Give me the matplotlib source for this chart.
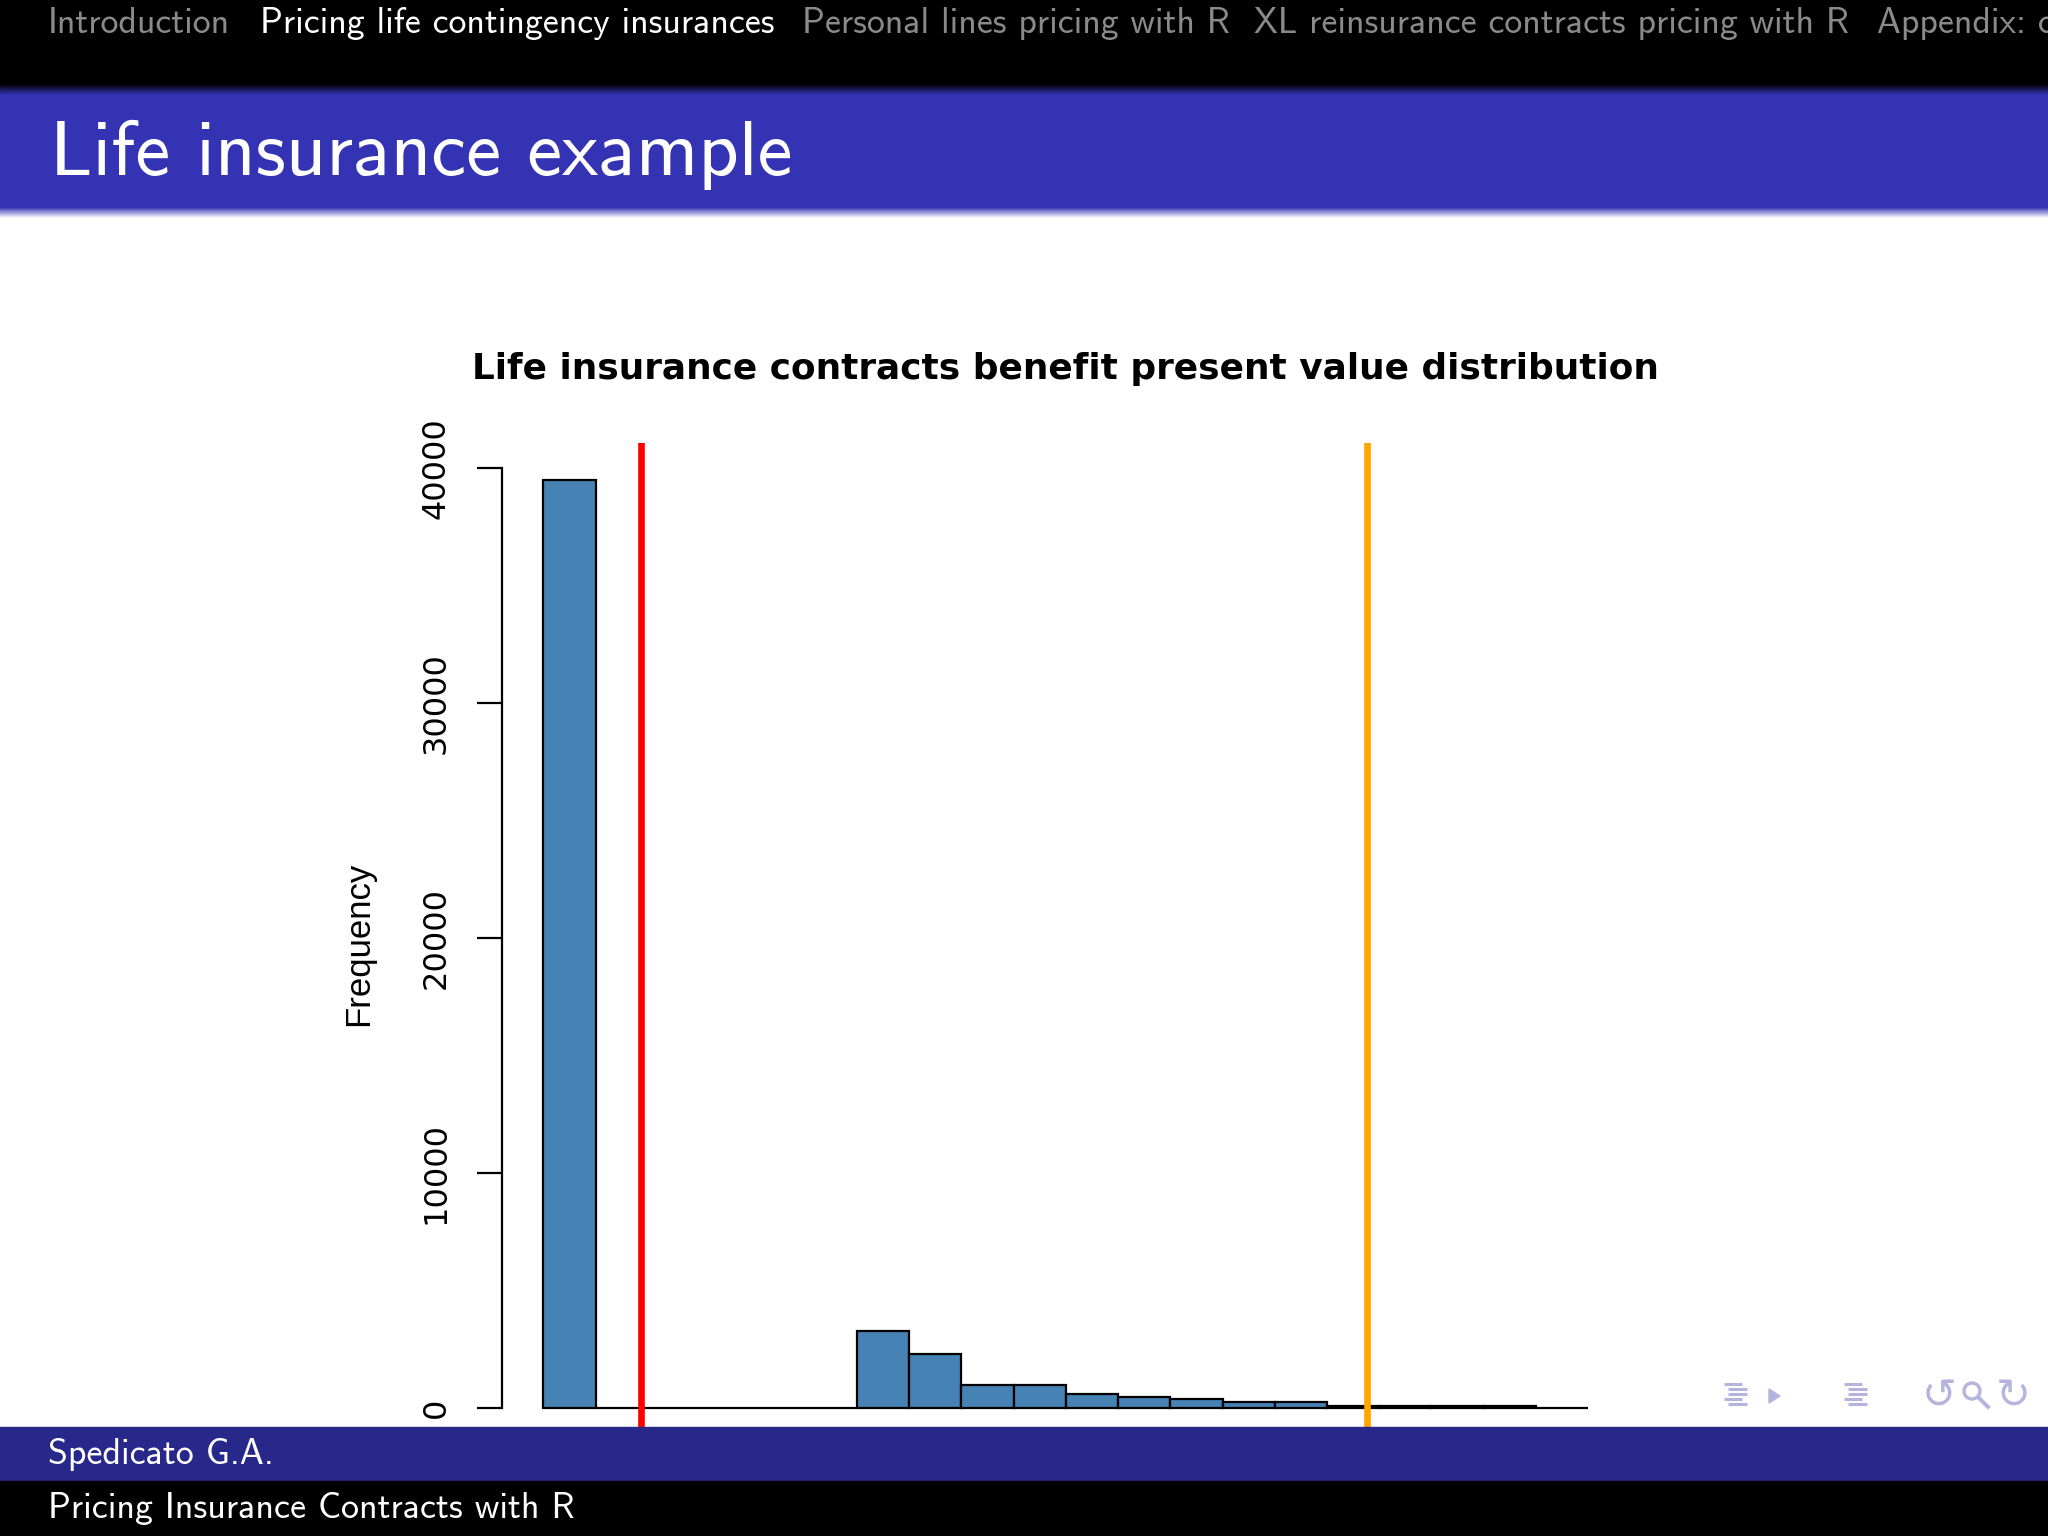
"""Beamer slide: life insurance benefit present value histogram (R hist look)."""

import numpy as np
import matplotlib
matplotlib.use("Agg")
import matplotlib.pyplot as plt
from matplotlib.patches import Rectangle, Polygon, Circle
from matplotlib.colors import LinearSegmentedColormap

# --- data ----------------------------------------------------------------
bin_edges = [0, 10000, 20000, 30000, 40000, 50000, 60000, 70000, 80000,
             90000, 100000, 110000, 120000, 130000, 140000, 150000, 160000,
             170000, 180000, 190000, 200000]
bin_counts = [39500, 0, 0, 0, 0, 0, 3290, 2310, 990, 990, 600, 480, 370,
              230, 230, 100, 80, 70, 60, 0]
pv_mean = 18750        # red line
pv_quantile = 157750   # orange line
y_ticks = [0, 10000, 20000, 30000, 40000]

nav_items = ["Introduction", "Pricing life contingency insurances",
             "Personal lines pricing with R",
             "XL reinsurance contracts pricing with R", "Appendix: code"]
active_item = 1
slide_title = "Life insurance example"
chart_title = "Life insurance contracts benefit present value distribution"
footer_author = "Spedicato G.A."
footer_talk = "Pricing Insurance Contracts with R"

# --- layout (pixels on a 2048x1536 canvas) --------------------------------
W, H = 2048, 1536
NAV_X = [48, 260, 802, 1254, 1877]
BLUE = "#3333b3"
FOOT_BLUE = "#28288a"
ICON = "#b4b4dc"
SLIDE_FONT = "cmss10"

fig = plt.figure(figsize=(W / 100, H / 100), dpi=100)
fig.patch.set_facecolor("white")

# plot region as R would lay it out (4% padding on both axes)
px_left, px_right, px_top, px_bottom = 501.6, 1630.0, 443.0, 1445.0
ax = fig.add_axes([px_left / W, 1 - px_bottom / H,
                   (px_right - px_left) / W, (px_bottom - px_top) / H])

edges = np.array(bin_edges, dtype=float)
ax.bar(edges[:-1], bin_counts, width=np.diff(edges), align="edge",
       color="#4682b4", edgecolor="black", linewidth=1.6, zorder=2)
ax.axvline(pv_mean, color="#ff0000", lw=4.8, zorder=3)
ax.axvline(pv_quantile, color="#ffa500", lw=4.8, zorder=3)

span_x = edges[-1] - edges[0]
ax.set_xlim(edges[0] - 0.04 * span_x, edges[-1] + 0.04 * span_x)
ymax = max(bin_counts)
ax.set_ylim(-0.04 * ymax, ymax * 1.04)

for side in ("top", "right", "bottom"):
    ax.spines[side].set_visible(False)
ax.spines["left"].set_bounds(y_ticks[0], y_ticks[-1])
ax.spines["left"].set_linewidth(1.6)
ax.set_xticks([])
ax.set_yticks(y_ticks)
ax.set_yticklabels([str(t) for t in y_ticks], rotation=90, va="center",
                   fontsize=23, family="DejaVu Sans")
ax.tick_params(axis="y", direction="out", length=18, width=1.6, pad=18)
ax.set_ylabel("Frequency", fontsize=25, family="Liberation Sans")
ax.yaxis.set_label_coords(-0.112, 0.5)
ax.set_title(chart_title, fontsize=25.8, fontweight="bold",
             family="DejaVu Sans", pad=46)

# --- slide chrome, drawn on a full-figure overlay in pixel coords ---------
sl = fig.add_axes([0, 0, 1, 1], zorder=5)
sl.set_facecolor("none")
sl.axis("off")

sl.add_patch(Rectangle((0, 0), W, 84, color="black"))
sl.add_patch(Rectangle((0, 95), W, 112, color=BLUE))
grad = np.linspace(0, 1, 64).reshape(-1, 1)
sl.imshow(grad, extent=[0, W, 95, 84], aspect="auto", interpolation="bilinear",
          cmap=LinearSegmentedColormap.from_list("k2b", ["black", BLUE]))
sl.imshow(grad, extent=[0, W, 218, 207], aspect="auto", interpolation="bilinear",
          cmap=LinearSegmentedColormap.from_list("b2w", [BLUE, "white"]))
sl.add_patch(Rectangle((0, 1427), W, 54, color=FOOT_BLUE))
sl.add_patch(Rectangle((0, 1481), W, 55, color="black"))

for i, (label, x) in enumerate(zip(nav_items, NAV_X)):
    sl.text(x, 33, label, fontsize=25.8, family=SLIDE_FONT, va="baseline",
            color="white" if i == active_item else "#8a8a8a")
sl.text(50, 175, slide_title, fontsize=56.6, family=SLIDE_FONT,
        color="white", va="baseline")
sl.text(48, 1464, footer_author, fontsize=25.9, family=SLIDE_FONT,
        color="white", va="baseline")
sl.text(48, 1518, footer_talk, fontsize=25.9, family=SLIDE_FONT,
        color="white", va="baseline")

# beamer navigation symbols
for x0 in (1724, 1844):
    for k, (dx0, dx1) in enumerate([(0, 18), (4, 23), (4, 23), (0, 18), (4, 23)]):
        sl.plot([x0 + dx0, x0 + dx1], [1384 + 5 * k, 1384 + 5 * k],
                color=ICON, lw=2.2, solid_capstyle="butt")
sl.add_patch(Polygon([[1769, 1389], [1780, 1396], [1769, 1403]], color=ICON))
sl.text(1939, 1396, "\u21ba", fontsize=30, color=ICON, ha="center",
        va="center", family="DejaVu Sans")
sl.text(2013, 1396, "\u21bb", fontsize=30, color=ICON, ha="center",
        va="center", family="DejaVu Sans")
sl.add_patch(Circle((1972, 1391), 8, fill=False, ec=ICON, lw=2.4))
sl.plot([1978, 1988], [1397, 1407], color=ICON, lw=2.8)

sl.set_xlim(0, W)
sl.set_ylim(H, 0)

fig.savefig("out.png", dpi=100)
